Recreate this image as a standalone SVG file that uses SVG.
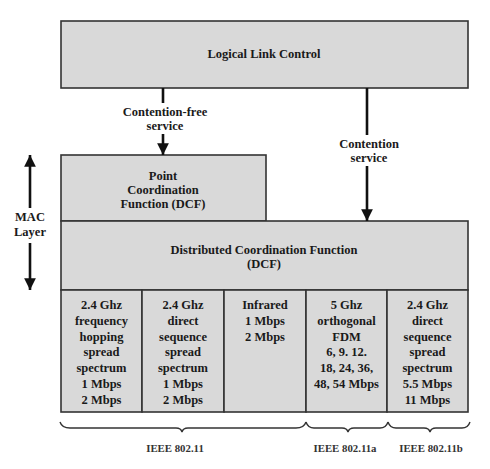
<svg xmlns="http://www.w3.org/2000/svg" width="490" height="469" viewBox="0 0 490 469">
<defs>
<marker id="ah" viewBox="0 0 10 10" refX="10" refY="5" markerWidth="4.5" markerHeight="5" orient="auto" markerUnits="strokeWidth">
<path d="M0,0 L10,5 L0,10 Z" fill="#111"/>
</marker>
<style>
.box{fill:#d9d9d9;stroke:#333;stroke-width:1.6}
.t{font-family:"Liberation Serif",serif;font-weight:bold;font-size:12.5px;fill:#1a1a1a;text-anchor:middle}
.s{font-family:"Liberation Serif",serif;font-weight:bold;font-size:10.8px;fill:#333;text-anchor:middle}
.ln{stroke:#111;stroke-width:2.6;fill:none}
.br{stroke:#333;stroke-width:1.4;fill:none}
</style>
</defs>
<rect width="490" height="469" fill="#fff"/>
<g id="llc">
<rect class="box" x="61" y="21" width="407" height="67"/>
<text class="t" x="264" y="58">Logical Link Control</text>
</g>
<g id="pcf">
<rect class="box" x="61" y="155" width="205" height="66"/>
<text class="t" x="163" y="180">Point</text>
<text class="t" x="163" y="194">Coordination</text>
<text class="t" x="163" y="208">Function (DCF)</text>
</g>
<g id="dcf">
<rect class="box" x="61" y="221" width="407" height="69"/>
<text class="t" x="264" y="254">Distributed Coordination Function</text>
<text class="t" x="264" y="268">(DCF)</text>
</g>
<g id="cell1">
<rect class="box" x="61" y="290" width="81" height="122"/>
<text class="t" x="101.5" y="309">2.4 Ghz</text>
<text class="t" x="101.5" y="325">frequency</text>
<text class="t" x="101.5" y="341">hopping</text>
<text class="t" x="101.5" y="356">spread</text>
<text class="t" x="101.5" y="372">spectrum</text>
<text class="t" x="101.5" y="388">1 Mbps</text>
<text class="t" x="101.5" y="404">2 Mbps</text>
</g>
<g id="cell2">
<rect class="box" x="142" y="290" width="82" height="122"/>
<text class="t" x="183" y="309">2.4 Ghz</text>
<text class="t" x="183" y="325">direct</text>
<text class="t" x="183" y="341">sequence</text>
<text class="t" x="183" y="356">spread</text>
<text class="t" x="183" y="372">spectrum</text>
<text class="t" x="183" y="388">1 Mbps</text>
<text class="t" x="183" y="404">2 Mbps</text>
</g>
<g id="cell3">
<rect class="box" x="224" y="290" width="82" height="122"/>
<text class="t" x="265" y="309">Infrared</text>
<text class="t" x="265" y="325">1 Mbps</text>
<text class="t" x="265" y="341">2 Mbps</text>
</g>
<g id="cell4">
<rect class="box" x="306" y="290" width="81" height="122"/>
<text class="t" x="346.5" y="309">5 Ghz</text>
<text class="t" x="346.5" y="325">orthogonal</text>
<text class="t" x="346.5" y="341">FDM</text>
<text class="t" x="346.5" y="356">6, 9. 12.</text>
<text class="t" x="346.5" y="372">18, 24, 36,</text>
<text class="t" x="346.5" y="388">48, 54 Mbps</text>
</g>
<g id="cell5">
<rect class="box" x="387" y="290" width="81" height="122"/>
<text class="t" x="427.5" y="309">2.4 Ghz</text>
<text class="t" x="427.5" y="325">direct</text>
<text class="t" x="427.5" y="341">sequence</text>
<text class="t" x="427.5" y="356">spread</text>
<text class="t" x="427.5" y="372">spectrum</text>
<text class="t" x="427.5" y="388">5.5 Mbps</text>
<text class="t" x="427.5" y="404">11 Mbps</text>
</g>
<g id="connectors">
<line class="ln" x1="163" y1="88" x2="163" y2="103"/>
<text class="t" x="165" y="116">Contention-free</text>
<text class="t" x="165" y="130">service</text>
<line class="ln" x1="163" y1="134" x2="163" y2="155" marker-end="url(#ah)"/>
<line class="ln" x1="367" y1="88" x2="367" y2="135"/>
<text class="t" x="369" y="148">Contention</text>
<text class="t" x="369" y="162">service</text>
<line class="ln" x1="367" y1="166" x2="367" y2="221" marker-end="url(#ah)"/>
</g>
<g id="mac">
<line class="ln" x1="30" y1="208" x2="30" y2="155" marker-end="url(#ah)"/>
<text class="t" x="30" y="221">MAC</text>
<text class="t" x="30" y="236">Layer</text>
<line class="ln" x1="30" y1="243" x2="30" y2="290" marker-end="url(#ah)"/>
</g>
<g id="braces">
<path class="br" d="M60,422 Q62,428 70,428 L176,428 Q181,428 182,432 Q183,428 188,428 L296,428 Q304,428 306,422"/>
<path class="br" d="M306,422 Q308,428 314,428 L342,428 Q347,428 348,432 Q349,428 354,428 L380,428 Q386,428 388,422"/>
<path class="br" d="M388,422 Q390,428 396,428 L424,428 Q429,428 430,432 Q431,428 436,428 L462,428 Q468,428 470,422"/>
<text class="s" x="175" y="452">IEEE 802.11</text>
<text class="s" x="345" y="452">IEEE 802.11a</text>
<text class="s" x="431" y="452">IEEE 802.11b</text>
</g>
</svg>
